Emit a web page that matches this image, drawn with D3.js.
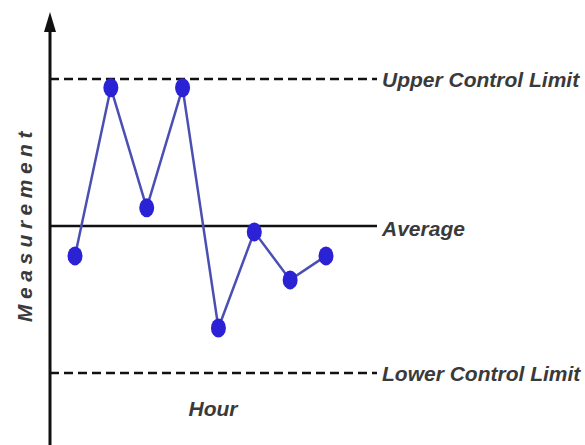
<!DOCTYPE html>
<html>
<head>
<meta charset="utf-8">
<script src="https://cdn.jsdelivr.net/npm/d3@7"></script>
<style>
  body { margin: 0; background: #fff; }
  svg { display: block; }
  .lbl { font-family: "Liberation Sans", Arial, sans-serif; font-weight: bold; font-style: italic; fill: #3a3a3a; }
</style>
</head>
<body>
<div id="chart"></div>
<script>
    // hours along the bottom, measurements in sigma units from the average
    var hours = [1, 2, 3, 4, 5, 6, 7, 8];
    var measurements = [-0.61, 2.82, 0.37, 2.82, -2.08, -0.12, -1.1, -0.61];
    var limitNames = ['Upper Control Limit', 'Average', 'Lower Control Limit'];
    var limitValues = [3, 0, -3];

    var width = 585, height = 445;

    var svg = d3.select('#chart').append('svg')
        .attr('width', width)
        .attr('height', height);

    var xScale = d3.scaleLinear()
        .domain([1, 8])
        .range([75, 326]);

    var yScale = d3.scaleLinear()
        .domain([-3, 3])
        .range([373, 79]);

    var axisX = 50;

    // control limit lines
    svg.selectAll('line.limit')
        .data(limitValues)
        .enter()
        .append('line')
        .attr('class', 'limit')
        .attr('x1', axisX)
        .attr('x2', 377)
        .attr('y1', function(d) { return yScale(d); })
        .attr('y2', function(d) { return yScale(d); })
        .style('stroke', '#111')
        .style('stroke-width', 2.5)
        .style('stroke-dasharray', function(d) { return d === 0 ? null : '9,5'; });

    svg.selectAll('text.limit')
        .data(limitValues)
        .enter()
        .append('text')
        .attr('class', 'lbl limit')
        .attr('x', 382)
        .attr('y', function(d) { return yScale(d) + (d === 0 ? 10 : 8); })
        .style('font-size', '21px')
        .text(function(d, i) { return limitNames[i]; });

    // y axis with arrow
    svg.append('line')
        .attr('x1', axisX).attr('x2', axisX)
        .attr('y1', 28).attr('y2', height)
        .style('stroke', '#111')
        .style('stroke-width', 3);

    svg.append('path')
        .attr('d', 'M' + (axisX - 6) + ',32 L' + axisX + ',12 L' + (axisX + 6) + ',32 Z')
        .style('fill', '#111');

    // measurement line
    var line = d3.line()
        .x(function(d, i) { return xScale(hours[i]); })
        .y(function(d) { return yScale(d); });

    svg.append('path')
        .datum(measurements)
        .attr('d', line)
        .style('fill', 'none')
        .style('stroke', '#4b4fb4')
        .style('stroke-width', 2.5);

    svg.selectAll('ellipse')
        .data(measurements)
        .enter()
        .append('ellipse')
        .attr('cx', function(d, i) { return xScale(hours[i]); })
        .attr('cy', function(d) { return yScale(d); })
        .attr('rx', 7.5)
        .attr('ry', 9.5)
        .style('fill', '#2b22d6');

    // axis titles
    svg.append('text')
        .attr('class', 'lbl')
        .attr('x', 213)
        .attr('y', 416)
        .attr('text-anchor', 'middle')
        .style('font-size', '21px')
        .text('Hour');

    svg.append('text')
        .attr('class', 'lbl')
        .attr('transform', 'translate(32,224) rotate(-90)')
        .attr('text-anchor', 'middle')
        .style('font-size', '21px')
        .style('letter-spacing', '5.5px')
        .text('Measurement');
</script>
</body>
</html>
